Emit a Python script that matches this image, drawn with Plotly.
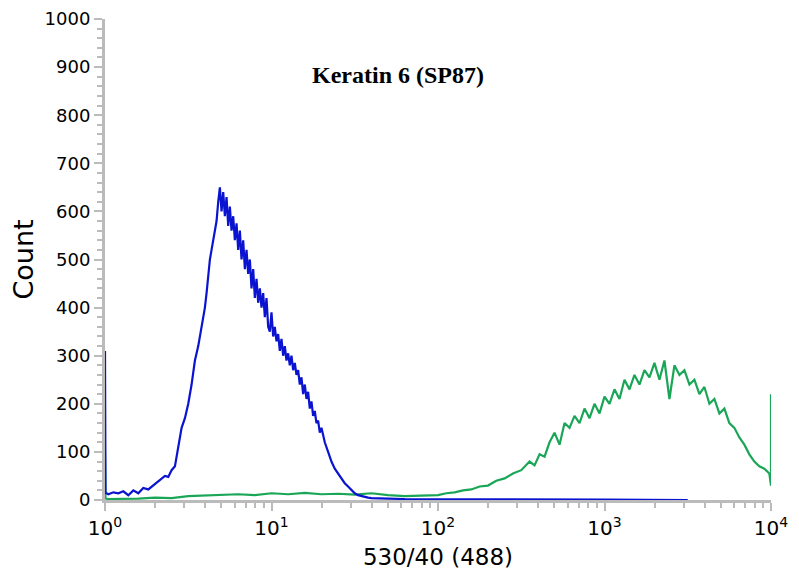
import plotly.graph_objects as go

# log10 positions (decades) and counts
blue_logx = [0.0, 0.003, 0.02, 0.05, 0.08, 0.11, 0.14, 0.17, 0.20, 0.23, 0.26, 0.29, 0.32, 0.34, 0.36, 0.38, 0.40, 0.42, 0.44, 0.46, 0.48,
             0.50, 0.52, 0.54, 0.56, 0.58, 0.60, 0.61, 0.62, 0.63, 0.64, 0.65, 0.66, 0.67, 0.68, 0.69, 0.70, 0.71, 0.72, 0.73, 0.74, 0.75,
             0.76, 0.77, 0.78, 0.79, 0.80, 0.81, 0.82, 0.83, 0.84, 0.85, 0.86, 0.87, 0.88, 0.89, 0.90, 0.91, 0.92, 0.93, 0.94, 0.95,
             0.96, 0.97, 0.98, 0.99, 1.00, 1.01, 1.02, 1.03, 1.04, 1.05, 1.06, 1.07, 1.08, 1.09, 1.10, 1.11, 1.12, 1.13, 1.14, 1.15,
             1.16, 1.17, 1.18, 1.19, 1.20, 1.21, 1.22, 1.23, 1.24, 1.25, 1.26, 1.27, 1.28, 1.29, 1.30, 1.32, 1.34, 1.36, 1.38, 1.40,
             1.42, 1.44, 1.46, 1.48, 1.50, 1.52, 1.54, 1.56, 1.58, 1.60, 1.65, 1.70, 1.80, 1.90, 2.00, 2.20, 2.40, 2.60, 2.80, 3.00, 3.50, 4.0]
blue_count = [310, 15, 12, 16, 14, 18, 10, 20, 14, 25, 22, 30, 38, 45, 50, 48, 62, 70, 110, 150, 170,
              200, 240, 290, 320, 360, 400, 430, 470, 500, 520, 540, 560, 580, 620, 650, 600, 640, 590, 630, 570, 610,
              560, 590, 540, 575, 520, 560, 500, 540, 480, 520, 470, 500, 440, 480, 420, 460, 410, 440, 400, 430,
              380, 420, 360, 350, 390, 340, 360, 330, 345, 310, 335, 300, 320, 290, 305, 280, 300, 270, 285, 260,
              270, 240, 255, 220, 240, 210, 225, 190, 205, 175, 185, 160, 165, 140, 150, 120, 100, 80, 65, 55,
              45, 35, 28, 20, 14, 10, 8, 6, 5, 4, 3, 3, 2, 2, 2, 1, 1, 1, 1, 1, 0]

green_logx = [0.0, 0.003, 0.02, 0.10, 0.20, 0.30, 0.40, 0.50, 0.60, 0.70, 0.80, 0.90, 1.00, 1.10, 1.20, 1.30, 1.40, 1.50, 1.60, 1.70,
              1.80, 1.90, 2.00, 2.05, 2.10, 2.15, 2.20, 2.25, 2.30, 2.35, 2.40, 2.45, 2.50, 2.55, 2.58, 2.61, 2.64, 2.67, 2.70,
              2.73, 2.76, 2.79, 2.82, 2.85, 2.88, 2.91, 2.94, 2.97, 3.00, 3.03, 3.06, 3.09, 3.12, 3.15, 3.18, 3.21, 3.24, 3.27,
              3.30, 3.33, 3.36, 3.39, 3.42, 3.45, 3.48, 3.51, 3.54, 3.57, 3.60, 3.63, 3.66, 3.69, 3.72, 3.75, 3.78, 3.81,
              3.84, 3.87, 3.90, 3.93, 3.96, 3.99, 3.995, 4.0]
green_count = [100, 3, 2, 2, 3, 5, 4, 8, 9, 10, 12, 10, 14, 12, 15, 12, 13, 11, 14, 10,
               8, 9, 10, 14, 16, 20, 22, 28, 30, 40, 45, 55, 62, 80, 72, 95, 90, 120, 140,
               115, 160, 150, 175, 160, 190, 170, 200, 180, 215, 200, 230, 210, 250, 230, 260, 240, 270, 255,
               285, 250, 290, 210, 280, 260, 270, 240, 250, 220, 235, 200, 210, 180, 190, 160, 150, 130,
               115, 95, 80, 70, 65, 55, 45, 30]
green_spike_end = 220

xtick_vals = [1, 10, 100, 1000, 10000]
xtick_text = ["10<sup>0</sup>", "10<sup>1</sup>", "10<sup>2</sup>", "10<sup>3</sup>", "10<sup>4</sup>"]
ytick_vals = list(range(0, 1001, 100))

fig = go.Figure()
gx = [10 ** v for v in green_logx] + [10 ** 4.0]
gy = green_count + [green_spike_end]
fig.add_trace(go.Scatter(x=gx, y=gy, mode="lines", line=dict(color="#1aa657", width=2.2), showlegend=False))
fig.add_trace(go.Scatter(x=[10 ** v for v in blue_logx], y=blue_count, mode="lines",
                         line=dict(color="#0a14d0", width=2.2), showlegend=False))

fig.update_layout(
    width=799, height=581, margin=dict(l=97, r=36, t=11, b=89),
    plot_bgcolor="white", paper_bgcolor="white",
    font=dict(family="DejaVu Sans", color="black"),
    annotations=[dict(text="<b>Keratin 6 (SP87)</b>", x=0.44, y=0.915, xref="paper", yref="paper",
                      showarrow=False, font=dict(family="Liberation Serif", size=24, color="black"))],
)
fig.update_xaxes(type="log", range=[0, 4], tickvals=xtick_vals, ticktext=xtick_text, automargin=False,
                 showgrid=False, zeroline=False, showline=True, linecolor="#bbbbbb", linewidth=3,
                 ticks="outside", tickcolor="#bbbbbb", ticklen=8, tickwidth=2, tickfont=dict(size=20),
                 minor=dict(ticks="outside", ticklen=5, tickcolor="#bbbbbb", tickwidth=2, dtick="D1"),
                 title=dict(text="530/40 (488)", font=dict(size=23), standoff=10))
fig.update_yaxes(range=[0, 1000], tickvals=ytick_vals, showgrid=False, zeroline=False, automargin=False,
                 showline=True, linecolor="#bbbbbb", linewidth=3,
                 ticks="outside", tickcolor="#bbbbbb", ticklen=8, tickwidth=2, tickfont=dict(size=18),
                 minor=dict(ticks="outside", ticklen=5, tickcolor="#bbbbbb", tickwidth=2, dtick=20),
                 title=dict(text="Count", font=dict(size=27), standoff=8))
fig.write_html("out.html")
